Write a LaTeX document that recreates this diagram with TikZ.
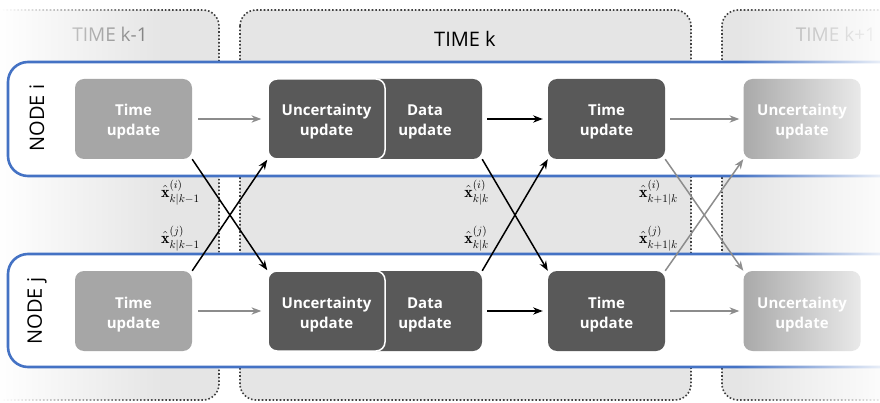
\documentclass[tikz,border=0pt]{standalone}
\usepackage{fix-cm}
\usepackage{amsmath}
\usepackage{fontspec}
\setsansfont{Open Sans}
\usepackage{tikz}
\usetikzlibrary{arrows.meta, fadings}

\definecolor{bandblue}{HTML}{4472C4}
\tikzfading[name=fade from left, left color=transparent!0, right color=transparent!100]
\tikzfading[name=fade to right, left color=transparent!100, right color=transparent!12]

\begin{document}
\begin{tikzpicture}[
    x=1pt, y=-1pt,
    font=\sffamily,
    >=Stealth,
    % Background styles
    timecol/.style={fill=black!10, draw=black!75, line width=1.6pt, dotted, rounded corners=16pt},
    timelabel/.style={font=\sffamily\fontsize{20}{23}\selectfont},
    nodeband/.style={fill=white, draw=bandblue, line width=2.6pt, rounded corners=20pt},
    nodelabel/.style={rotate=90, font=\sffamily\fontsize{20}{23}\selectfont},
    % Update blocks
    lightbox/.style={rectangle, fill=black!35, rounded corners=9pt, minimum width=117pt, minimum height=80pt, text=white, align=center, text height=38pt, text depth=4pt, font=\sffamily\bfseries\fontsize{15}{20}\selectfont},
    darkbox/.style={lightbox, fill=black!65},
    % Edge styles
    blackarrow/.style={->, line width=1.5pt, draw=black},
    grayarrow/.style={->, line width=1.5pt, draw=black!45},
    estimate/.style={anchor=east, inner sep=1pt, font=\fontsize{16}{18}\selectfont}
]
\useasboundingbox (0,0) rectangle (880,403);
\clip (0,0) rectangle (880,403);

% -----------------------------------------------------------
% Time columns
% -----------------------------------------------------------
\draw[timecol] (-40,10) rectangle (219,400);
\draw[timecol] (240,10) rectangle (691,400);
\draw[timecol] (722,10) rectangle (920,400);

\node[timelabel, text=black!55, font=\sffamily\fontsize{19}{22}\selectfont] (tkm) at (110,34) {TIME k-1};
\node[timelabel] (tk) at (465,39) {TIME k};
\node[timelabel, text=black!40, font=\sffamily\fontsize{19}{22}\selectfont] (tkp) at (836,34) {TIME k+1};

% fade the past column out to the left
\fill[white, path fading=fade from left] (0,0) rectangle (165,403);

% -----------------------------------------------------------
% Node bands
% -----------------------------------------------------------
\draw[nodeband] (8,62) rectangle (920,176);
\draw[nodeband] (8,254) rectangle (920,367);

\node[nodelabel] (ndi) at (37,118) {NODE i};
\node[nodelabel] (ndj) at (37,311) {NODE j};

% -----------------------------------------------------------
% ROW i (y=119)
% -----------------------------------------------------------
\node[lightbox] (tuAi) at (133.5,119) {Time\\update};
\node[darkbox, minimum width=114pt] (duBi) at (425,119) {Data\\update};
\node[darkbox, draw=white, line width=1.5pt] (uuBi) at (326.5,119) {Uncertainty\\update};
\node[darkbox] (tuBi) at (606.5,119) {Time\\update};
\node[lightbox] (uuCi) at (802,119) {Uncertainty\\update};

% -----------------------------------------------------------
% ROW j (y=311)
% -----------------------------------------------------------
\node[lightbox] (tuAj) at (133.5,311) {Time\\update};
\node[darkbox, minimum width=114pt] (duBj) at (425,311) {Data\\update};
\node[darkbox, draw=white, line width=1.5pt] (uuBj) at (326.5,311) {Uncertainty\\update};
\node[darkbox] (tuBj) at (606.5,311) {Time\\update};
\node[lightbox] (uuCj) at (802,311) {Uncertainty\\update};

% -----------------------------------------------------------
% Connectors
% -----------------------------------------------------------
\draw[grayarrow, shorten <=6pt, shorten >=6pt] (tuAi) -- (uuBi);
\draw[grayarrow, shorten <=6pt, shorten >=6pt] (tuAj) -- (uuBj);
\draw[blackarrow, shorten <=5pt, shorten >=5pt] (duBi) -- (tuBi);
\draw[blackarrow, shorten <=5pt, shorten >=5pt] (duBj) -- (tuBj);
\draw[grayarrow, shorten <=5pt, shorten >=4pt] (tuBi) -- (uuCi);
\draw[grayarrow, shorten <=5pt, shorten >=4pt] (tuBj) -- (uuCj);

% Exchange between nodes
\draw[blackarrow] (tuAi.south east) -- (uuBj.north west);
\draw[blackarrow] (tuAj.north east) -- (uuBi.south west);
\draw[blackarrow] (duBi.south east) -- (tuBj.north west);
\draw[blackarrow] (duBj.north east) -- (tuBi.south west);
\draw[grayarrow] (tuBi.south east) -- (uuCj.north west);
\draw[grayarrow] (tuBj.north east) -- (uuCi.south west);

\node[estimate] (xAi) at (201,193) {$\hat{\mathbf{x}}^{(i)}_{k|k-1}$};
\node[estimate] (xAj) at (201,239) {$\hat{\mathbf{x}}^{(j)}_{k|k-1}$};
\node[estimate] (xBi) at (490,193) {$\hat{\mathbf{x}}^{(i)}_{k|k}$};
\node[estimate] (xBj) at (490,239) {$\hat{\mathbf{x}}^{(j)}_{k|k}$};
\node[estimate] (xCi) at (679,193) {$\hat{\mathbf{x}}^{(i)}_{k+1|k}$};
\node[estimate] (xCj) at (679,239) {$\hat{\mathbf{x}}^{(j)}_{k+1|k}$};

% fade the future column out to the right
\fill[white, path fading=fade to right] (736,0) rectangle (880,403);

\end{tikzpicture}
\end{document}
